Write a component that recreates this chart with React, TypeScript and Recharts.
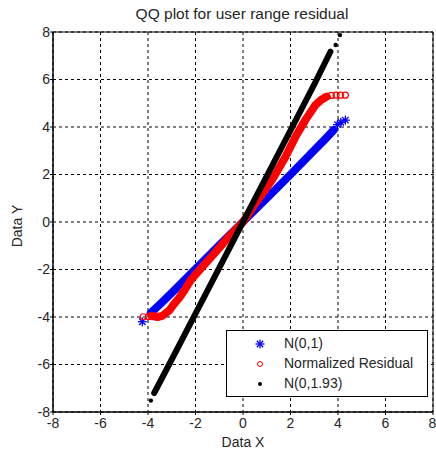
import React from 'react';
import { ScatterChart, Scatter, XAxis, YAxis, CartesianGrid, ReferenceArea } from 'recharts';

const ticks = [-8, -6, -4, -2, 0, 2, 4, 6, 8];

const blueBand = [[-3.88,-3.83],[-3.5,-3.47],[-3,-2.98],[-2,-1.98],[-1,-0.98],[0,0.01],[1,1.0],[2,2.0],[3,3.02],[3.5,3.53],[3.82,3.87]];
const blueTail = [[-4.24,-4.2],[3.98,4.1],[4.12,4.2],[4.31,4.29]];

const redBand = [[-3.85,-3.95],[-3.6,-4.0],[-3.4,-3.95],[-3.1,-3.72],[-2.9,-3.45],[-2.69,-3.2],[-2.45,-2.85],[-2.2,-2.45],[-1.9,-2.1],[-1.57,-1.73],[-1.1,-1.2],[-0.59,-0.62],[0,0],[0.53,0.79],[1.22,1.77],[1.79,2.75],[2.21,3.59],[2.63,4.3],[3.05,4.93],[3.3,5.15],[3.53,5.28]];
const redTail = [[-4.2,-3.99],[-3.98,-3.98],[3.72,5.33],[3.92,5.34],[4.1,5.34],[4.31,5.34]];

const blackBand = [[-3.74,-7.2],[-3,-5.79],[-2,-3.86],[-1,-1.93],[0,0],[1,1.93],[2,3.86],[3,5.79],[3.68,7.17]];
const blackTail = [[-3.88,-7.52],[3.9,7.45],[4.08,7.87]];

const legendNames = ['N(0,1)', 'Normalized Residual', 'N(0,1.93)'];

const toPts = (a: number[][]) => a.map(([x, y]) => ({ x, y }));

const FONT = '"Liberation Sans", Arial, sans-serif';
const TEXT = '#262626';

const Star = (props: any) => {
  const { cx, cy } = props;
  const r = 4.5;
  const d = 3.2;
  return (
    <g stroke="#0000ff" strokeWidth={1.3}>
      <line x1={cx - r} y1={cy} x2={cx + r} y2={cy} />
      <line x1={cx} y1={cy - r} x2={cx} y2={cy + r} />
      <line x1={cx - d} y1={cy - d} x2={cx + d} y2={cy + d} />
      <line x1={cx - d} y1={cy + d} x2={cx + d} y2={cy - d} />
    </g>
  );
};
const Circ = (props: any) => <circle cx={props.cx} cy={props.cy} r={3} fill="none" stroke="#ff0000" strokeWidth={1.2} />;
const Dot = (props: any) => <circle cx={props.cx} cy={props.cy} r={2.2} fill="#000" />;
const NoShape = () => <g />;

const LegendBox = () => (
  <div style={{ position: 'absolute', left: 226, top: 330, width: 200, height: 65, border: '1px solid #000', background: '#fff', fontFamily: FONT, fontSize: 14, color: TEXT }}>
    {legendNames.map((n, i) => (
      <div key={n} style={{ position: 'absolute', left: 0, top: 3 + i * 20, height: 18, width: 200 }}>
        <svg width={20} height={18} style={{ position: 'absolute', left: 23, top: 1 }}>
          {i === 0 && <Star cx={10} cy={9} />}
          {i === 1 && <circle cx={10} cy={9} r={2.5} fill="none" stroke="#ff0000" strokeWidth={1} />}
          {i === 2 && <circle cx={10} cy={9} r={2} fill="#000" />}
        </svg>
        <span style={{ position: 'absolute', left: 57, top: 1, whiteSpace: 'nowrap' }}>{n}</span>
      </div>
    ))}
  </div>
);

export default function App() {
  const tickStyle = { fontFamily: FONT, fontSize: 14, fill: TEXT };
  return (
    <div style={{ position: 'absolute', left: 0, top: 0, width: 436, height: 451, background: '#fff', fontFamily: FONT }}>
      <div style={{ position: 'absolute', left: 0, width: 484, top: 5, textAlign: 'center', fontSize: 15.5, color: TEXT }}>
        QQ plot for user range residual
      </div>
      <div style={{ position: 'absolute', left: 0, width: 486, top: 434, textAlign: 'center', fontSize: 14, color: TEXT }}>
        Data X
      </div>
      <div style={{ position: 'absolute', left: 17, top: 226, transform: 'translate(-50%, -50%) rotate(-90deg)', fontSize: 14, color: TEXT, whiteSpace: 'nowrap' }}>
        Data Y
      </div>
      <div style={{ position: 'absolute', left: 0, top: 0 }}>
        <ScatterChart width={436} height={451} margin={{ top: 32, right: 3, bottom: 0, left: 0 }}>
          <CartesianGrid stroke="#000" strokeDasharray="3 3" />
          <XAxis type="number" dataKey="x" domain={[-8, 8]} ticks={ticks} height={39} allowDataOverflow
            tick={tickStyle} tickSize={3} tickMargin={3} stroke="#000" />
          <YAxis type="number" dataKey="y" domain={[-8, 8]} ticks={ticks} width={53} allowDataOverflow
            tick={tickStyle} tickSize={3} tickMargin={0} stroke="#000" />
          <ReferenceArea x1={-8} x2={8} y1={-8} y2={8} fill="none" stroke="#000" strokeWidth={1} ifOverflow="visible" />
          <Scatter data={toPts(blueBand)} isAnimationActive={false} shape={NoShape}
            line={{ stroke: '#0000ff', strokeWidth: 8, strokeLinecap: 'round' }} lineType="joint" />
          <Scatter data={toPts(blueTail)} isAnimationActive={false} shape={Star} />
          <Scatter data={toPts(redBand)} isAnimationActive={false} shape={NoShape}
            line={{ stroke: '#ff0000', strokeWidth: 8, strokeLinecap: 'round', strokeLinejoin: 'round' }} lineType="joint" />
          <Scatter data={toPts(redTail)} isAnimationActive={false} shape={Circ} />
          <Scatter data={toPts(blackBand)} isAnimationActive={false} shape={NoShape}
            line={{ stroke: '#000', strokeWidth: 6, strokeLinecap: 'round' }} lineType="joint" />
          <Scatter data={toPts(blackTail)} isAnimationActive={false} shape={Dot} />
        </ScatterChart>
      </div>
      <LegendBox />
    </div>
  );
}
